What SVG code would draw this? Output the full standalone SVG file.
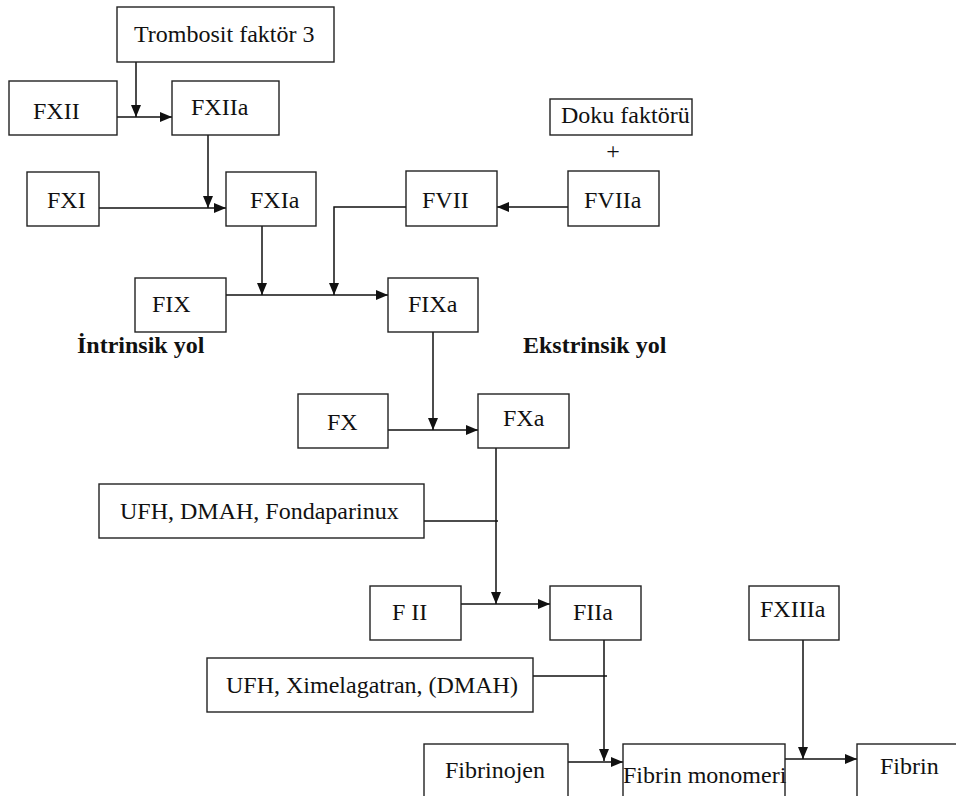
<svg xmlns="http://www.w3.org/2000/svg" width="956" height="796" viewBox="0 0 956 796">
<defs>
<style>
.box{fill:#fff;stroke:#222;stroke-width:1.4}
.t{font-family:"Liberation Serif","Times New Roman",serif;font-size:24px;fill:#111}
.b{font-family:"Liberation Serif","Times New Roman",serif;font-size:24px;font-weight:bold;fill:#111}
.c{fill:none;stroke:#111;stroke-width:1.5}
</style>
<marker id="ah" markerUnits="userSpaceOnUse" markerWidth="12" markerHeight="10" refX="12" refY="5" orient="auto">
<path d="M0,0 L12,5 L0,10 z" fill="#111"/>
</marker>
</defs>
<rect width="956" height="796" fill="#fff"/>
<g id="connectors">
<path class="c" d="M136,62 V117" marker-end="url(#ah)"/>
<path class="c" d="M117,117 H172" marker-end="url(#ah)"/>
<path class="c" d="M208,135 V208" marker-end="url(#ah)"/>
<path class="c" d="M99,208 H226" marker-end="url(#ah)"/>
<path class="c" d="M568,207 H497" marker-end="url(#ah)"/>
<path class="c" d="M406,207 H334 V295" marker-end="url(#ah)"/>
<path class="c" d="M262,226 V295" marker-end="url(#ah)"/>
<path class="c" d="M226,295 H388" marker-end="url(#ah)"/>
<path class="c" d="M433,332 V430" marker-end="url(#ah)"/>
<path class="c" d="M388,430 H478" marker-end="url(#ah)"/>
<path class="c" d="M496,448 V604" marker-end="url(#ah)"/>
<path class="c" d="M424,521 H498"/>
<path class="c" d="M461,604 H550" marker-end="url(#ah)"/>
<path class="c" d="M604,640 V761" marker-end="url(#ah)"/>
<path class="c" d="M533,676 H607"/>
<path class="c" d="M568,762 H623" marker-end="url(#ah)"/>
<path class="c" d="M803,640 V759" marker-end="url(#ah)"/>
<path class="c" d="M785,759 H857" marker-end="url(#ah)"/>
</g>
<g id="trombosit"><rect class="box" x="117" y="7" width="217" height="55"/><text class="t" x="134" y="42">Trombosit faktör 3</text></g>
<g id="fxii"><rect class="box" x="9" y="81" width="108" height="54"/><text class="t" x="33" y="119">FXII</text></g>
<g id="fxiia"><rect class="box" x="172" y="81" width="107" height="54"/><text class="t" x="191" y="115">FXIIa</text></g>
<g id="fxi"><rect class="box" x="27" y="172" width="72" height="54"/><text class="t" x="47" y="208">FXI</text></g>
<g id="fxia"><rect class="box" x="226" y="172" width="90" height="54"/><text class="t" x="250" y="208">FXIa</text></g>
<g id="doku"><rect class="box" x="550" y="99" width="142" height="36"/><text class="t" x="561" y="123">Doku faktörü</text></g>
<g id="plus"><text class="t" x="613" y="159" text-anchor="middle">+</text></g>
<g id="fvii"><rect class="box" x="406" y="171" width="91" height="55"/><text class="t" x="422" y="208">FVII</text></g>
<g id="fviia"><rect class="box" x="568" y="171" width="91" height="55"/><text class="t" x="584" y="208">FVIIa</text></g>
<g id="fix"><rect class="box" x="135" y="278" width="91" height="54"/><text class="t" x="152" y="312">FIX</text></g>
<g id="fixa"><rect class="box" x="388" y="278" width="90" height="54"/><text class="t" x="408" y="312">FIXa</text></g>
<g id="intrinsik"><text class="b" x="77" y="353">İntrinsik yol</text></g>
<g id="ekstrinsik"><text class="b" x="523" y="353">Ekstrinsik yol</text></g>
<g id="fx"><rect class="box" x="298" y="394" width="90" height="54"/><text class="t" x="327" y="430">FX</text></g>
<g id="fxa"><rect class="box" x="478" y="394" width="91" height="54"/><text class="t" x="503" y="426">FXa</text></g>
<g id="ufh1"><rect class="box" x="99" y="484" width="325" height="54"/><text class="t" x="120" y="519">UFH, DMAH, Fondaparinux</text></g>
<g id="fii"><rect class="box" x="370" y="586" width="91" height="54"/><text class="t" x="392" y="620">F II</text></g>
<g id="fiia"><rect class="box" x="550" y="586" width="91" height="54"/><text class="t" x="573" y="620">FIIa</text></g>
<g id="fxiiia"><rect class="box" x="749" y="586" width="90" height="54"/><text class="t" x="760" y="617">FXIIIa</text></g>
<g id="ufh2"><rect class="box" x="207" y="658" width="326" height="54"/><text class="t" x="226" y="693">UFH, Ximelagatran, (DMAH)</text></g>
<g id="fibrinojen"><rect class="box" x="424" y="744" width="144" height="70"/><text class="t" x="445" y="778">Fibrinojen</text></g>
<g id="monomer"><rect class="box" x="623" y="744" width="162" height="70"/><text class="t" x="623" y="783">Fibrin monomeri</text></g>
<g id="fibrin"><rect class="box" x="857" y="744" width="120" height="70"/><text class="t" x="880" y="774">Fibrin</text></g>
</svg>
